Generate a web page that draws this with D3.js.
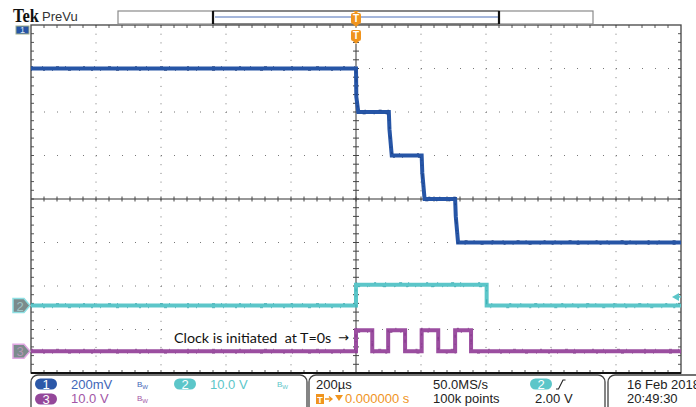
<!DOCTYPE html>
<html>
<head>
<meta charset="utf-8">
<script src="https://cdn.jsdelivr.net/npm/d3@7"></script>
<style>
  body { margin: 0; background: #fff; }
  svg { display: block; }
  text { font-family: "Liberation Sans", Arial, sans-serif; }
</style>
</head>
<body>
<div id="chart"></div>
<script>
// time base in microseconds, trigger at t = 0 (200 us/div, 10 div)
const timeDomain = [-1000, 1000];
const divDomain = [-4, 4];

// channel 1 : stepped analog output (V)
const ch1Time = [-1000, 0, 1, 7, 101, 103, 110, 202, 204, 211, 305, 307, 314, 1000];
const ch1Volts = [-0.2, -0.2, -0.33, -0.4, -0.4, -0.48, -0.6, -0.6, -0.68, -0.8, -0.8, -0.88, -1.0, -1.0];

// channel 2 : enable pulse (V), step-after
const ch2Time = [-1000, 0, 402, 1000];
const ch2Volts = [0, 4.8, 0, 0];

// channel 3 : clock (V), step-after
const ch3Time = [-1000, 0, 50, 99, 151, 202, 253, 305, 354, 1000];
const ch3Volts = [0, 4.8, 0, 4.8, 0, 4.8, 0, 4.8, 0, 0];

// vertical settings: volts/div and ground position (div)
const chScale = [0.2, 10, 10];
const chPosition = [4, -2.45, -3.5];
const chReadout = ['200mV', '10.0 V', '10.0 V'];

const trigLevel = 2.0;
const timeReadout = '200\u00b5s';
const trigReadout = '0.000000 s';
const sampleRate = '50.0MS/s';
const recordLength = '100k points';
const dateText = '16 Feb 2018';
const timeText = '20:49:30';
const note = 'Clock is initiated  at T=0s';

const W = 696, H = 407;
const scrL = 31, scrR = 681, scrT = 25, scrB = 373;

const svg = d3.select('#chart').append('svg')
  .attr('width', W).attr('height', H);

const x = d3.scaleLinear().domain(timeDomain).range([scrL, scrR]);
const y = d3.scaleLinear().domain(divDomain).range([scrB, scrT]);

const blue = '#2655a6', cyan = '#5cc6c9', purple = '#9b4ea0', orange = '#f0941e';
const colors = [blue, cyan, purple];

// ---- graticule ----
const grid = svg.append('g');

// dotted vertical grid lines
grid.selectAll('.vg')
  .data(d3.range(-800, 1000, 200).filter(d => d !== 0))
  .enter().append('line')
  .attr('x1', d => x(d)).attr('x2', d => x(d))
  .attr('y1', y(4)).attr('y2', y(-4))
  .attr('stroke', '#777').attr('stroke-width', 1)
  .attr('stroke-dasharray', `1 ${(y(3) - y(3.2)) - 1}`);

// dotted horizontal grid lines
grid.selectAll('.hg')
  .data(d3.range(-3, 4, 1).filter(d => d !== 0))
  .enter().append('line')
  .attr('x1', x(-1000)).attr('x2', x(1000))
  .attr('y1', d => y(d)).attr('y2', d => y(d))
  .attr('stroke', '#777').attr('stroke-width', 1)
  .attr('stroke-dasharray', `1 ${(x(40) - x(0)) - 1}`);

// minor ticks along the frame
const minorT = d3.range(-960, 1000, 40);
const minorV = d3.range(-3.8, 4, 0.2);
grid.selectAll('.tt').data(minorT).enter().append('line')
  .attr('x1', d => x(d)).attr('x2', d => x(d))
  .attr('y1', scrT).attr('y2', scrT + 3)
  .attr('stroke', '#555');
grid.selectAll('.bt').data(minorT).enter().append('line')
  .attr('x1', d => x(d)).attr('x2', d => x(d))
  .attr('y1', scrB - 3).attr('y2', scrB)
  .attr('stroke', '#555');
grid.selectAll('.lt').data(minorV).enter().append('line')
  .attr('x1', scrL).attr('x2', scrL + 3)
  .attr('y1', d => y(d)).attr('y2', d => y(d))
  .attr('stroke', '#555');
grid.selectAll('.rt').data(minorV).enter().append('line')
  .attr('x1', scrR - 3).attr('x2', scrR)
  .attr('y1', d => y(d)).attr('y2', d => y(d))
  .attr('stroke', '#555');

// center cross
grid.append('line')
  .attr('x1', x(0)).attr('x2', x(0)).attr('y1', 44).attr('y2', scrB)
  .attr('stroke', '#9a9a9a').attr('stroke-width', 2);
grid.append('line')
  .attr('x1', scrL).attr('x2', scrR).attr('y1', y(0)).attr('y2', y(0))
  .attr('stroke', '#333').attr('stroke-width', 1.2);
grid.selectAll('.ch').data(minorT).enter().append('line')
  .attr('x1', d => x(d)).attr('x2', d => x(d))
  .attr('y1', y(0) - 2.5).attr('y2', y(0) + 2.5)
  .attr('stroke', '#444');
grid.selectAll('.cv').data(minorV).enter().append('line')
  .attr('x1', x(0) - 3).attr('x2', x(0) + 3)
  .attr('y1', d => y(d)).attr('y2', d => y(d))
  .attr('stroke', '#444');

// frame
grid.append('rect')
  .attr('x', scrL).attr('y', scrT)
  .attr('width', scrR - scrL).attr('height', scrB - scrT)
  .attr('fill', 'none').attr('stroke', '#444').attr('stroke-width', 1.3);
grid.append('line')
  .attr('x1', scrL).attr('x2', scrR).attr('y1', scrB).attr('y2', scrB)
  .attr('stroke', '#111').attr('stroke-width', 2.2);

// ---- annotation box ----
svg.append('rect')
  .attr('x', 168).attr('y', 325).attr('width', 184).attr('height', 24)
  .attr('fill', '#fff');
svg.append('text')
  .attr('x', 174).attr('y', 343)
  .attr('xml:space', 'preserve')
  .style('white-space', 'pre')
  .style('font-family', 'Lato, "Open Sans", sans-serif')
  .style('font-size', '14.3px')
  .attr('fill', '#111')
  .text(note);
svg.append('text')
  .attr('x', 338).attr('y', 342)
  .style('font-family', '"DejaVu Sans", sans-serif')
  .style('font-size', '13px')
  .attr('fill', '#111')
  .text('\u2192');

// ---- traces ----
svg.append('clipPath').attr('id', 'screen')
  .append('rect').attr('x', scrL).attr('y', scrT)
  .attr('width', scrR - scrL).attr('height', scrB - scrT);

const traces = svg.append('g').attr('clip-path', 'url(#screen)');
const series = [
  { t: ch1Time, v: ch1Volts, curve: d3.curveLinear },
  { t: ch2Time, v: ch2Volts, curve: d3.curveStepAfter },
  { t: ch3Time, v: ch3Volts, curve: d3.curveStepAfter }
];
const texture = ['#173b7d', '#2aa4aa', '#7a2f80'];

series.forEach((s, i) => {
  const pts = s.t.map((t, k) => [t, s.v[k]]);
  const line = d3.line()
    .x(d => x(d[0]))
    .y(d => y(d[1] / chScale[i] + chPosition[i]))
    .curve(s.curve);
  traces.append('path')
    .attr('d', line(pts))
    .attr('fill', 'none')
    .attr('stroke', colors[i])
    .attr('stroke-width', 4);
  // speckle to mimic acquisition noise
  [[-2, '2 9 1 13 3 6 1 17'], [2, '1 11 2 7 1 15 3 8']].forEach(([dy, dash]) => {
    traces.append('path')
      .attr('d', line(pts))
      .attr('fill', 'none')
      .attr('stroke', texture[i])
      .attr('stroke-width', 1.2)
      .attr('opacity', 0.6)
      .attr('stroke-dasharray', dash)
      .attr('transform', `translate(0,${dy})`);
  });
});

// ---- channel ground markers ----
svg.append('rect')
  .attr('x', 16).attr('y', 26).attr('width', 13).attr('height', 8)
  .attr('fill', blue).attr('stroke', '#9fae8c').attr('stroke-width', 1);
svg.append('text')
  .attr('x', 22.5).attr('y', 33).attr('text-anchor', 'middle')
  .style('font-size', '9px').attr('fill', '#dde6f5').text('1');

[1, 2].forEach(i => {
  const cy = y(chPosition[i]);
  const stroke = i === 1 ? '#8ee0e3' : '#e0a6e2';
  svg.append('path')
    .attr('d', `M13,${cy - 7} H24 L30,${cy} L24,${cy + 7} H13 Z`)
    .attr('fill', '#7b8b8c').attr('stroke', stroke).attr('stroke-width', 1.5);
  svg.append('text')
    .attr('x', 20).attr('y', cy + 5).attr('text-anchor', 'middle')
    .style('font-size', '13px')
    .attr('fill', i === 1 ? '#9fc4c6' : '#b596b6')
    .text(i + 1);
});

// trigger level arrow (ch2)
const ty = y(trigLevel / chScale[1] + chPosition[1]);
svg.append('path')
  .attr('d', `M672,${ty} L679,${ty - 4} L679,${ty + 4} Z`)
  .attr('fill', cyan);
svg.append('line')
  .attr('x1', 678).attr('x2', 681).attr('y1', ty).attr('y2', ty)
  .attr('stroke', cyan).attr('stroke-width', 1.5);

// ---- header ----
svg.append('text')
  .attr('x', 13).attr('y', 22)
  .attr('textLength', 26).attr('lengthAdjust', 'spacingAndGlyphs')
  .style('font-family', '"Liberation Serif", serif')
  .style('font-weight', 'bold').style('font-size', '19px')
  .attr('fill', '#111').text('Tek');
svg.append('text')
  .attr('x', 42).attr('y', 21)
  .style('font-size', '13px').attr('fill', '#333').text('PreVu');

// record view bar
svg.append('rect')
  .attr('x', 118).attr('y', 11).attr('width', 475).attr('height', 13)
  .attr('fill', '#fff').attr('stroke', '#8a8a8a').attr('stroke-width', 1.2);
svg.append('rect')
  .attr('x', 213).attr('y', 11).attr('width', 286).attr('height', 13)
  .attr('fill', 'none').attr('stroke', '#555').attr('stroke-width', 1);
[213, 499].forEach(bx => {
  svg.append('line')
    .attr('x1', bx).attr('x2', bx).attr('y1', 11).attr('y2', 24)
    .attr('stroke', '#111').attr('stroke-width', 2.2);
});
svg.append('line')
  .attr('x1', 215).attr('x2', 498).attr('y1', 17).attr('y2', 17)
  .attr('stroke', '#4a6fb8').attr('stroke-width', 1);

// trigger position marks
function trigMark(cx, y0, h) {
  const g = svg.append('g');
  g.append('rect')
    .attr('x', cx - 5).attr('y', y0).attr('width', 10).attr('height', h)
    .attr('rx', 2).attr('fill', orange);
  g.append('path')
    .attr('d', `M${cx - 3},${y0 + h} L${cx + 3},${y0 + h} L${cx},${y0 + h + 3} Z`)
    .attr('fill', orange);
  g.append('text')
    .attr('x', cx).attr('y', y0 + h - 2).attr('text-anchor', 'middle')
    .style('font-size', `${h - 1}px`).style('font-weight', 'bold')
    .attr('fill', '#fff').text('T');
}
svg.append('path')
  .attr('d', `M${x(0) - 3},11 L${x(0) + 3},11 L${x(0)},14 Z`).attr('fill', orange);
trigMark(x(0), 13, 11);
trigMark(x(0), 30, 11);

// ---- readout panel ----
const panel = svg.append('g');
[[31, 307], [309, 605], [608, 705]].forEach(([a, b]) => {
  panel.append('rect')
    .attr('x', a).attr('y', 375).attr('width', b - a).attr('height', 50)
    .attr('rx', 7).attr('fill', 'none')
    .attr('stroke', '#444').attr('stroke-width', 1.3);
});

function badge(cx, cy, n, fill) {
  panel.append('rect')
    .attr('x', cx - 11).attr('y', cy - 5.5).attr('width', 22).attr('height', 11)
    .attr('rx', 5.5).attr('fill', fill);
  panel.append('text')
    .attr('x', cx).attr('y', cy + 4.5).attr('text-anchor', 'middle')
    .style('font-size', '13px').attr('fill', '#fff').text(n);
}
function bw(bx, by, fill) {
  const t = panel.append('text').attr('x', bx).attr('y', by).attr('fill', fill);
  t.append('tspan').style('font-size', '8px').text('B');
  t.append('tspan').style('font-size', '6px').attr('dy', 2).text('W');
}
function label(lx, ly, str, fill) {
  panel.append('text')
    .attr('x', lx).attr('y', ly)
    .style('font-size', '13px').attr('fill', fill).text(str);
}

const row1 = 389, row2 = 403;
const chLabelColor = ['#3f66b8', cyan, '#a256a6'];
badge(46, 384, 1, '#2c58a8');
label(71, row1, chReadout[0], chLabelColor[0]);
bw(137, row1 - 2, chLabelColor[0]);
badge(185, 384, 2, cyan);
label(210, row1, chReadout[1], chLabelColor[1]);
bw(277, row1 - 2, chLabelColor[1]);
badge(46, 399, 3, '#94479a');
label(71, row2, chReadout[2], chLabelColor[2]);
bw(137, row2 - 2, chLabelColor[2]);

label(316, row1, timeReadout, '#222');
panel.append('rect')
  .attr('x', 316).attr('y', 394).attr('width', 8).attr('height', 10)
  .attr('fill', orange);
panel.append('text')
  .attr('x', 320).attr('y', 402.5).attr('text-anchor', 'middle')
  .style('font-size', '9px').style('font-weight', 'bold')
  .attr('fill', '#fff').text('T');
panel.append('path')
  .attr('d', 'M325,399 H331 M329,396.5 L332,399 L329,401.5')
  .attr('fill', 'none').attr('stroke', orange).attr('stroke-width', 1.3);
panel.append('path')
  .attr('d', 'M335,395 H343 L339,401 Z').attr('fill', orange);
label(345, row2, trigReadout, orange);

label(433, row1, sampleRate, '#222');
label(433, row2, recordLength, '#222');

badge(541, 384, 2, cyan);
panel.append('path')
  .attr('d', 'M556,389 H558.5 L563,380 H565.5')
  .attr('fill', 'none').attr('stroke', '#222').attr('stroke-width', 1.1);
label(535, row2, trigLevel.toFixed(2) + ' V', '#222');

label(627, row1, dateText, '#222');
label(627, row2, timeText, '#222');
</script>
</body>
</html>
